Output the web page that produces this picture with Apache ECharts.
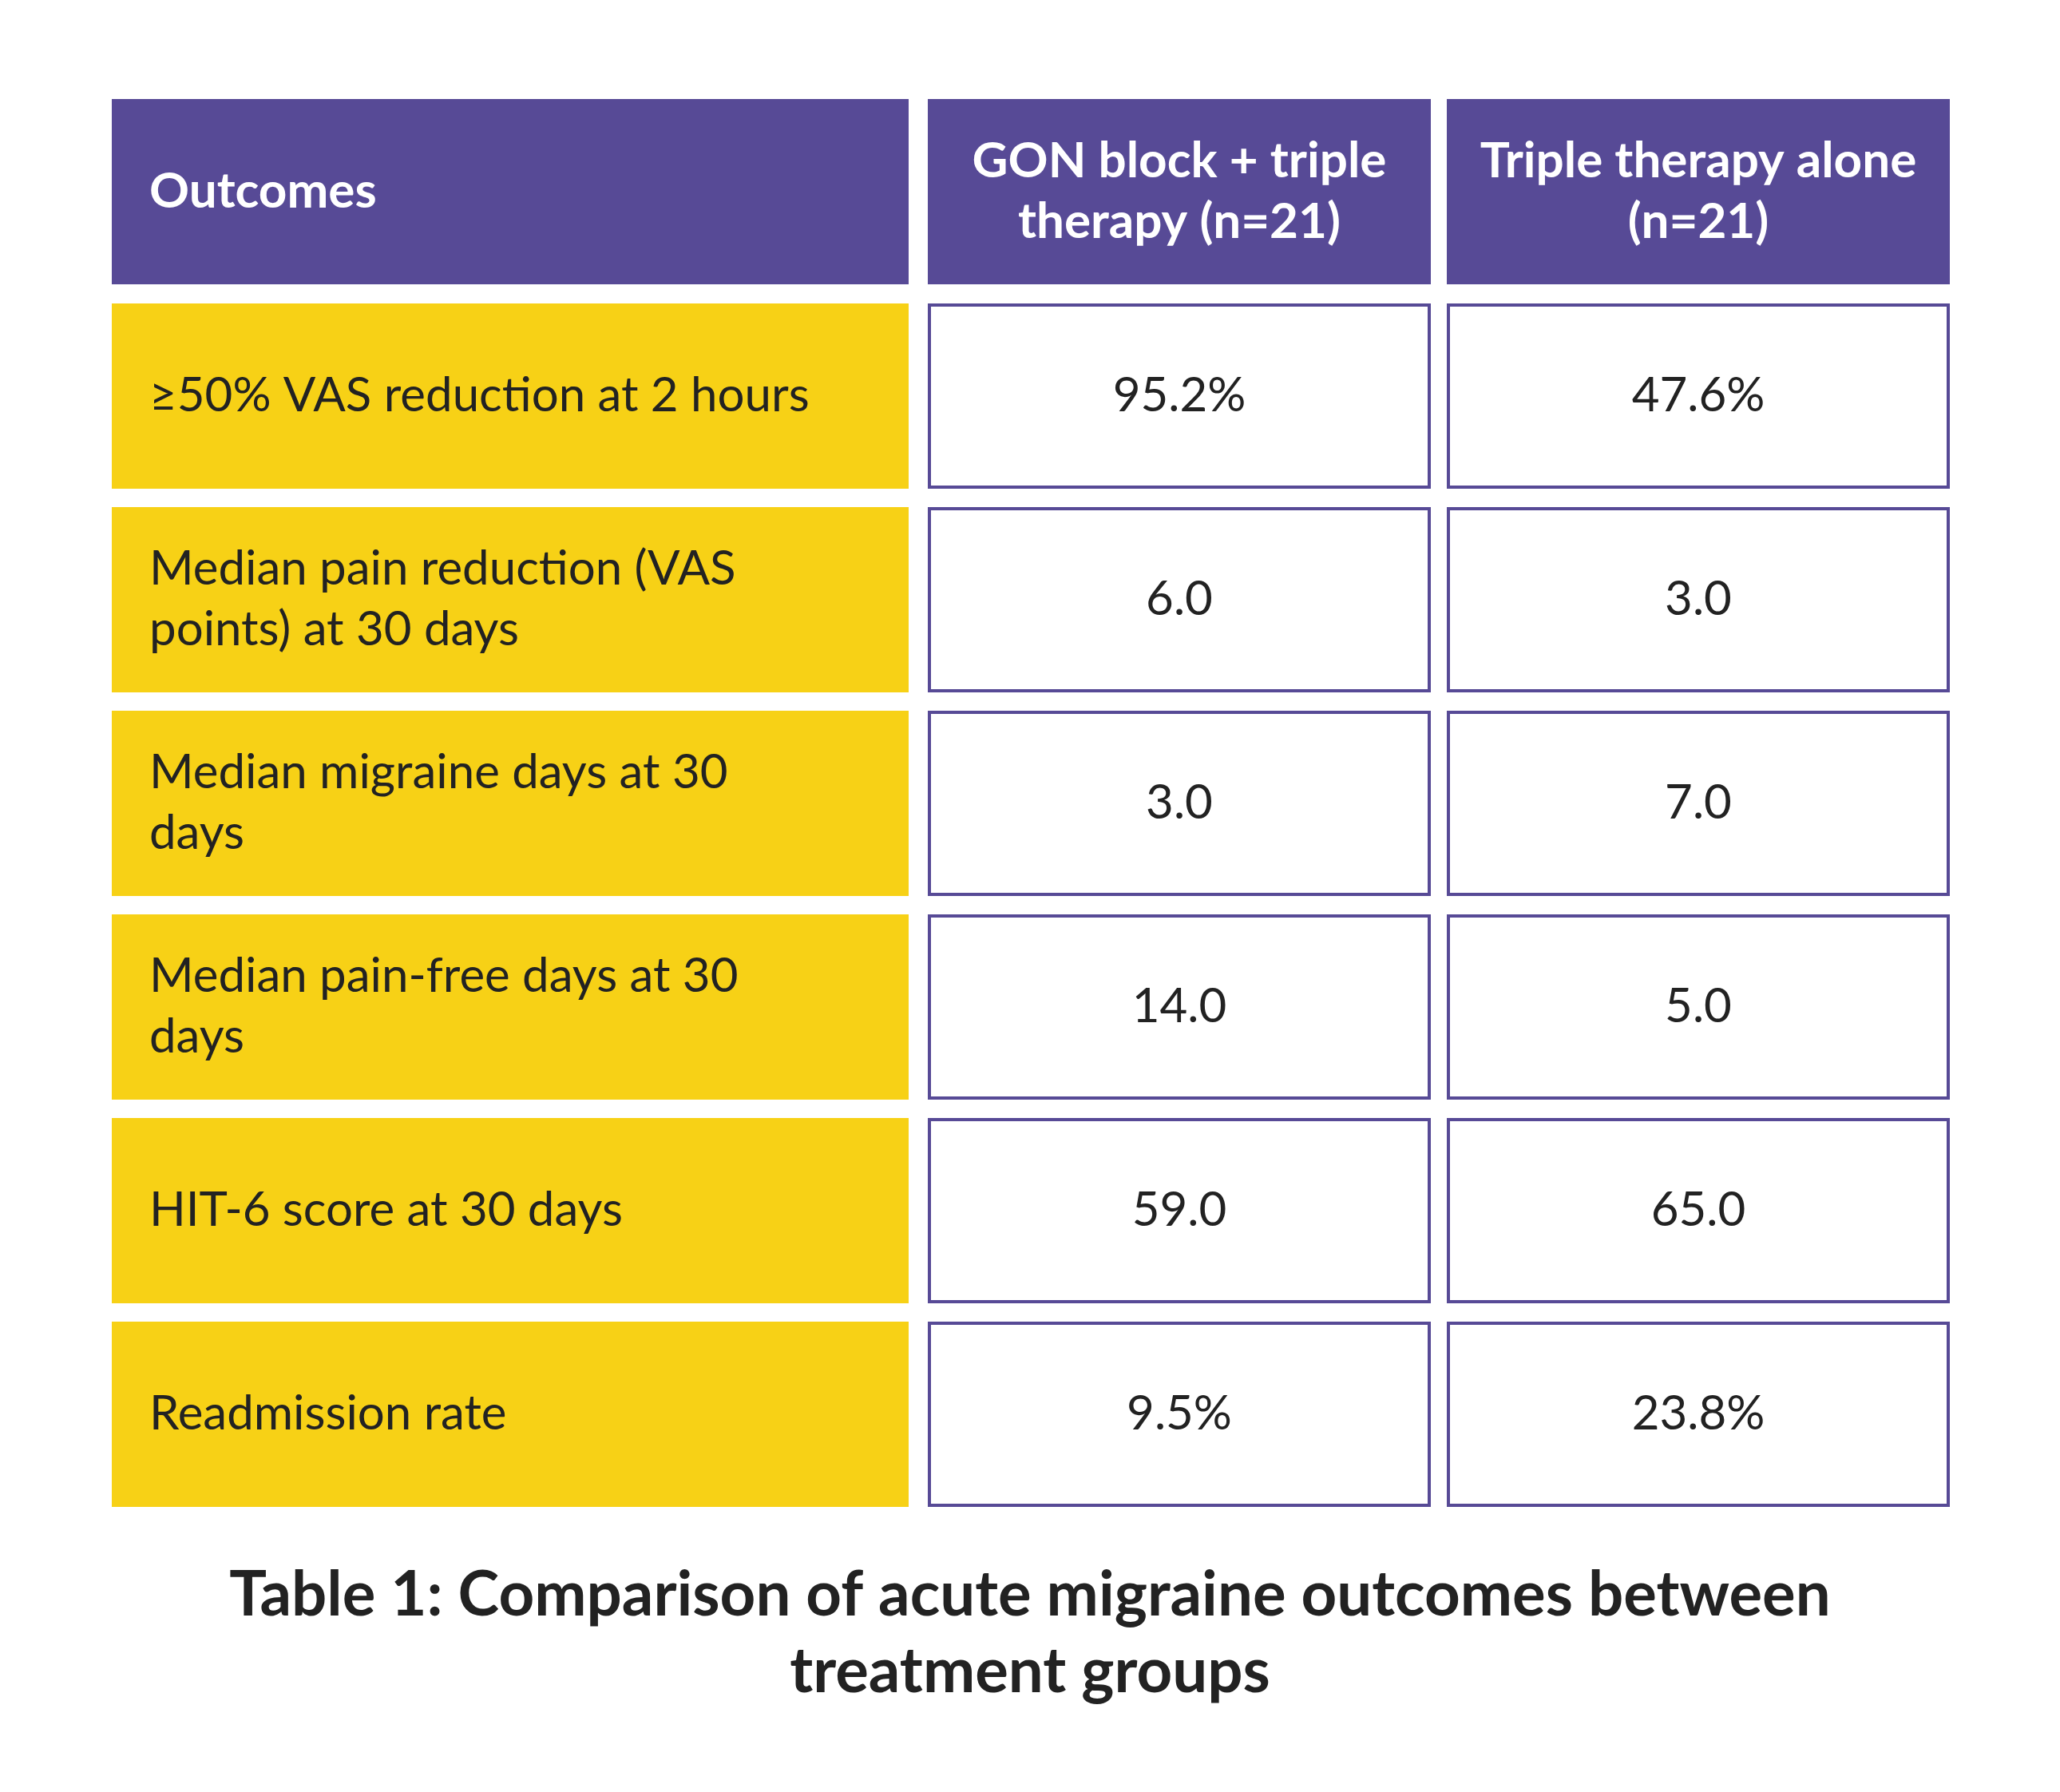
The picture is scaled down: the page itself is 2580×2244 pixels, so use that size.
<!DOCTYPE html>
<html><head><meta charset="utf-8">
<script src="https://cdn.jsdelivr.net/npm/echarts@6/dist/echarts.min.js"></script>
<style>html,body{margin:0;background:#fff}#chart{width:2580px;height:2244px}</style>
</head><body><div id="chart"></div>
<script>
// table content
var headers = ['Outcomes', 'GON block + triple\ntherapy (n=21)', 'Triple therapy alone\n(n=21)'];
var outcomes = ['≥50% VAS reduction at 2 hours', 'Median pain reduction (VAS\npoints) at 30 days',
  'Median migraine days at 30\ndays', 'Median pain-free days at 30\ndays', 'HIT-6 score at 30 days', 'Readmission rate'];
var gonTriple = ['95.2%', '6.0', '3.0', '14.0', '59.0', '9.5%'];
var tripleAlone = ['47.6%', '3.0', '7.0', '5.0', '65.0', '23.8%'];
var title = 'Table 1: Comparison of acute migraine outcomes between\ntreatment groups';

// layout (pixels)
var colL = [142, 1164, 1814], colR = [1136, 1790, 2440];
var rowTop = 126, headH = 228, firstRow = 382, pitch = 255, rowH = 228;

var cells = [];
headers.forEach(function (h, c) { cells.push([c, 0, h]); });
outcomes.forEach(function (o, r) {
  cells.push([0, r + 1, o]); cells.push([1, r + 1, gonTriple[r]]); cells.push([2, r + 1, tripleAlone[r]]);
});

var chart = echarts.init(document.getElementById('chart'));
chart.setOption({
  backgroundColor: '#fff',
  grid: {left: 0, right: 0, top: 0, bottom: 0},
  xAxis: {type: 'value', min: 0, max: 2580, show: false},
  yAxis: {type: 'value', min: 0, max: 2244, inverse: true, show: false},
  title: {text: title, left: 'center', top: 1945,
    textStyle: {fontFamily: 'Lato', fontWeight: 'bold', fontSize: 78, color: '#222', lineHeight: 96, align: 'center'}},
  series: [{
    type: 'custom', coordinateSystem: 'cartesian2d', data: cells,
    renderItem: function (params, api) {
      var c = api.value(0), r = api.value(1), txt = cells[params.dataIndex][2];
      var y0 = r === 0 ? rowTop : firstRow + (r - 1) * pitch;
      var h = r === 0 ? headH : rowH;
      var p0 = api.coord([colL[c], y0]), p1 = api.coord([colR[c], y0 + h]);
      var fill, stroke, color, weight;
      if (r === 0) { fill = '#574A96'; stroke = '#574A96'; color = '#fff'; weight = 'bold'; }
      else if (c === 0) { fill = '#F7D116'; stroke = '#F7D116'; color = '#222'; weight = 'normal'; }
      else { fill = '#fff'; stroke = '#574A96'; color = '#222'; weight = 'normal'; }
      var left = c === 0;
      return {type: 'group', children: [
        {type: 'rect', shape: {x: p0[0], y: p0[1], width: p1[0] - p0[0], height: p1[1] - p0[1]},
          style: {fill: fill, stroke: stroke, lineWidth: 4}},
        {type: 'text', x: left ? p0[0] + 45 : (p0[0] + p1[0]) / 2, y: (p0[1] + p1[1]) / 2,
          style: {text: txt, fill: color, fontFamily: 'Lato', fontWeight: weight, fontSize: r === 0 ? 62 : 60,
            lineHeight: 76, align: left ? 'left' : 'center', verticalAlign: 'middle'}}
      ]};
    }
  }]
});
</script></body></html>
